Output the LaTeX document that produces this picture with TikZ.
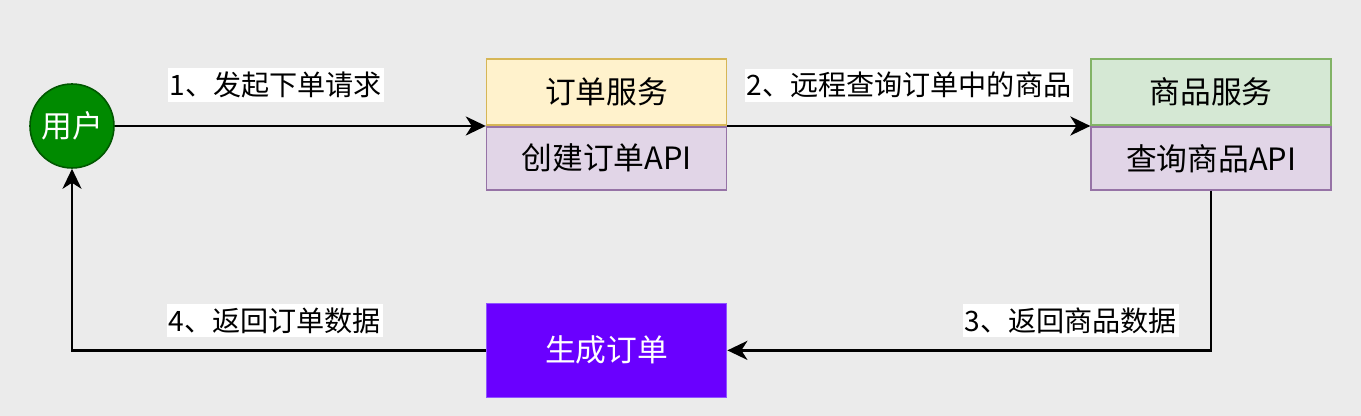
\documentclass[tikz,border=0pt]{standalone}
\usepackage{fontspec}
\usepackage{tikz}
\usetikzlibrary{arrows.meta,positioning}
\newfontfamily\cjk{Noto Sans CJK SC}
\definecolor{canvas}{HTML}{EBEBEB}
\definecolor{headyellow}{HTML}{FFF2CC}
\definecolor{lineyellow}{HTML}{D6B656}
\definecolor{headgreen}{HTML}{D5E8D4}
\definecolor{linegreen}{HTML}{82B366}
\definecolor{apipurple}{HTML}{E1D5E7}
\definecolor{linepurple}{HTML}{9673A6}
\definecolor{userfill}{HTML}{008A00}
\definecolor{userline}{HTML}{005700}
\definecolor{violet}{HTML}{6A00FF}
\definecolor{violetline}{HTML}{8F55FF}

\begin{document}
\begin{tikzpicture}[
    box/.style={draw, line width=0.9pt, minimum width=4.8cm, align=center, inner sep=0pt, font=\cjk\fontsize{17.5}{20}\selectfont},
    headbox/.style={box, minimum height=1.32cm},
    apibox/.style={box, fill=apipurple, draw=linepurple, minimum height=1.26cm},
    lbl/.style={fill=white, inner xsep=1pt, inner ysep=2pt, font=\cjk\fontsize{16}{19}\selectfont},
    arrow/.style={-{Stealth[length=0.4cm, width=0.38cm, inset=0.12cm]}, line width=1.5pt, black}
]
    \fill[canvas] (0,0) rectangle (27.22,8.32);
    \useasboundingbox (0,0) rectangle (27.22,8.32);

    \node[circle, draw=userline, fill=userfill, line width=0.9pt, minimum size=1.68cm, inner sep=0pt, text=white, font=\cjk\fontsize{17.5}{20}\selectfont] (user) at (1.44,5.80) {用户};

    \node[apibox, below right=0cm and 7.42cm of user.east] (ordapi) {创建订单API};
    \node[headbox, fill=headyellow, draw=lineyellow, above=0pt of ordapi] (ordhead) {订单服务};

    \node[apibox, right=7.26cm of ordapi] (goodsapi) {查询商品API};
    \node[headbox, fill=headgreen, draw=linegreen, above=0pt of goodsapi] (goodshead) {商品服务};

    \node[box, fill=violet, draw=violetline, text=white, minimum height=1.88cm, below=2.24cm of ordapi] (genorder) {生成订单};

    \draw[arrow] (user) -- node[lbl, pos=0.434, above=0.46cm] {1、发起下单请求} (ordapi.north west);
    \draw[arrow] (ordapi.north east) -- node[lbl, above=0.46cm] {2、远程查询订单中的商品} (goodsapi.north west);
    \draw[arrow] (goodsapi) |- node[lbl, pos=0.645, above=0.24cm] {3、返回商品数据} (genorder);
    \draw[arrow] (genorder) -| node[lbl, pos=0.255, above=0.24cm] {4、返回订单数据} (user);
\end{tikzpicture}
\end{document}
